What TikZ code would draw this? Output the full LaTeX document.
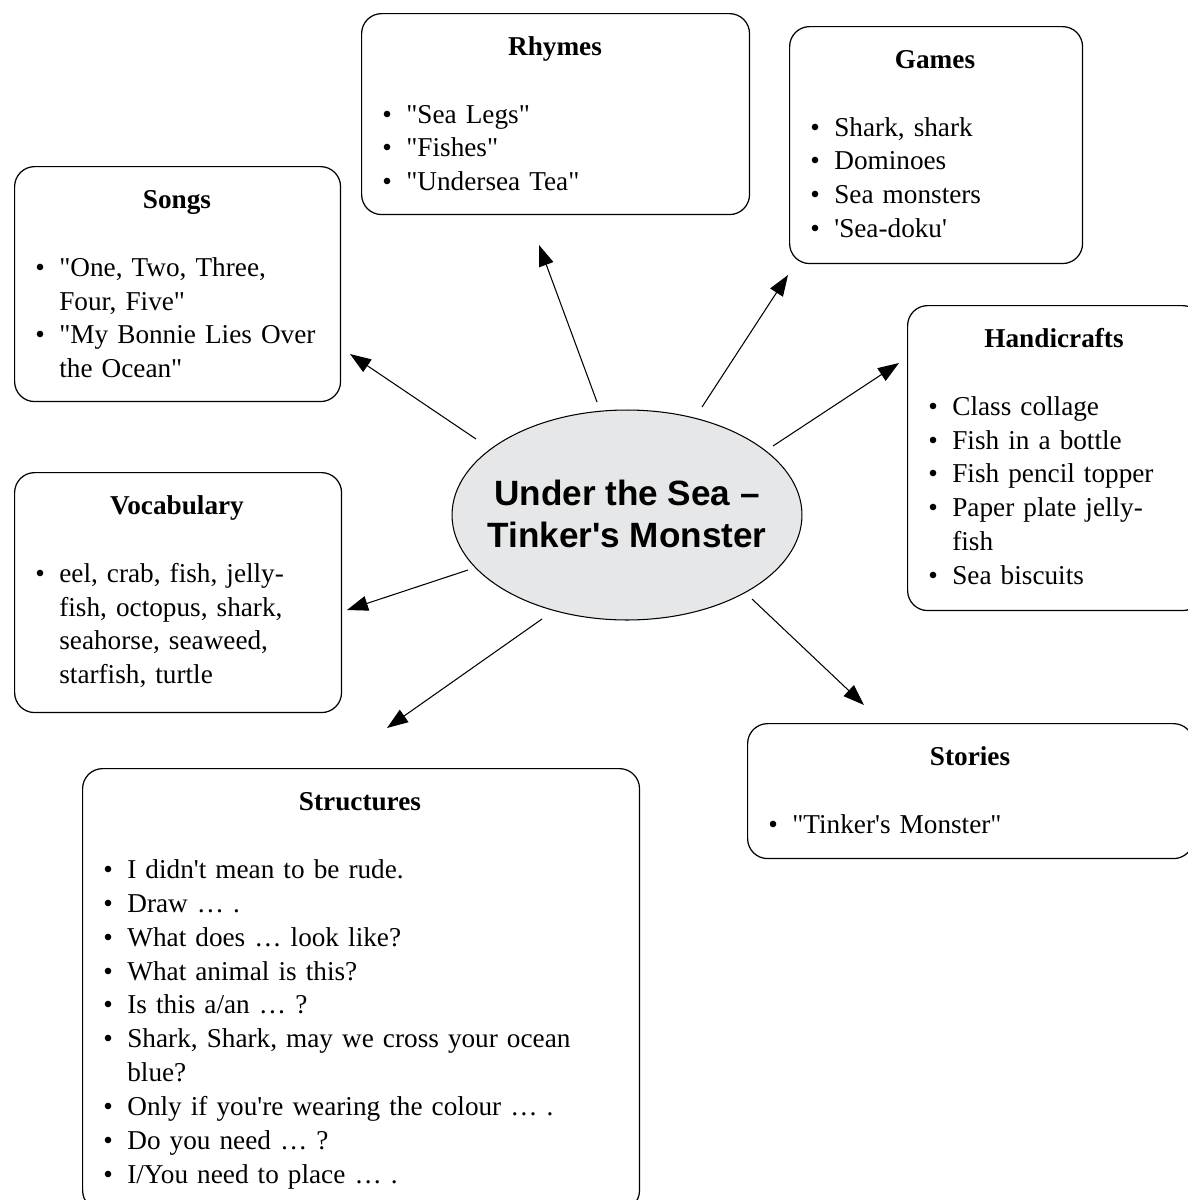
\documentclass[tikz,border=0pt]{standalone}
\usepackage{fontspec}
\setmainfont{Liberation Serif}[Ligatures=TeXOff]
\newfontfamily\hubfont{Liberation Sans}[Ligatures=TeXOff]
\usepackage{tikz}
\usetikzlibrary{shapes.geometric,arrows.meta}
\definecolor{hubfill}{HTML}{E6E7E8}
\tikzstyle{topic_box} = [draw, rounded corners=0.4cm, line width=0.7pt, anchor=north west, inner sep=0pt]
\tikzstyle{topic_head} = [anchor=base, inner sep=0pt, font=\bfseries\fontsize{15.5}{19.35}\selectfont]
\tikzstyle{topic_list} = [anchor=base west, inner sep=0pt, align=left, font=\fontsize{15.5}{19.35}\selectfont]
\tikzstyle{hub_node} = [ellipse, draw, fill=hubfill, line width=0.6pt, minimum width=7cm, minimum height=4.2cm, inner sep=0pt]
\tikzstyle{hub_text} = [align=center, inner sep=0pt, font=\hubfont\bfseries\fontsize{20}{23.9}\selectfont]
\tikzstyle{edge_arrow} = [-{Triangle[length=0.42cm,width=0.3cm]}, line width=0.6pt]
\newcommand{\itm}[1]{\noindent\hangindent=0.48cm\hangafter=1\makebox[0.48cm][l]{\textbullet}#1\par}

\begin{document}
\begin{tikzpicture}[x=0.02cm, y=-0.02cm]
	\useasboundingbox (0,0) rectangle (1187,1200);
	% centre
	\node (hub) at (627,515) [hub_node] {};
	\node (hub_txt) at (627,514) [hub_text] {Under the Sea –\\Tinker's Monster};
	% frames
	\node (rhymes) at (361,13) [topic_box, minimum width=7.76cm, minimum height=4.02cm] {};
	\node (games) at (789,26) [topic_box, minimum width=5.86cm, minimum height=4.74cm] {};
	\node (songs) at (14,166) [topic_box, minimum width=6.52cm, minimum height=4.70cm] {};
	\node (crafts) at (907,305) [topic_box, minimum width=5.90cm, minimum height=6.10cm] {};
	\node (vocab) at (14,472) [topic_box, minimum width=6.54cm, minimum height=4.80cm] {};
	\node (stories) at (747,723) [topic_box, minimum width=8.92cm, minimum height=2.70cm] {};
	\node (structs) at (82,768) [topic_box, minimum width=11.14cm, minimum height=8.84cm] {};
	% headings
	\node (rhymes_head) at (555,55) [topic_head] {Rhymes};
	\node (games_head) at (935,68) [topic_head] {Games};
	\node (songs_head) at (177,208) [topic_head] {Songs};
	\node (crafts_head) at (1054,347) [topic_head] {Handicrafts};
	\node (vocab_head) at (177,514) [topic_head] {Vocabulary};
	\node (stories_head) at (970,765) [topic_head] {Stories};
	\node (structs_head) at (360,810) [topic_head] {Structures};
	% lists
	\node (rhymes_list) at (382,123) [topic_list, text width=7cm] {%
		\itm{"Sea Legs"}
		\itm{"Fishes"}
		\itm{"Undersea Tea"}};
	\node (games_list) at (810,136) [topic_list, text width=5.2cm] {%
		\itm{Shark, shark}
		\itm{Dominoes}
		\itm{Sea monsters}
		\itm{'Sea-doku'}};
	\node (songs_list) at (35,276) [topic_list, text width=6cm] {%
		\itm{"One, Two, Three,\newline Four, Five"}
		\itm{"My Bonnie Lies Over\newline the Ocean"}};
	\node (crafts_list) at (928,415) [topic_list, text width=5.2cm] {%
		\itm{Class collage}
		\itm{Fish in a bottle}
		\itm{Fish pencil topper}
		\itm{Paper plate jelly-\newline fish}
		\itm{Sea biscuits}};
	\node (vocab_list) at (35,582) [topic_list, text width=6cm] {%
		\itm{eel, crab, fish, jelly-\newline fish, octopus, shark,\newline seahorse, seaweed,\newline starfish, turtle}};
	\node (stories_list) at (768,833) [topic_list, text width=8cm] {%
		\itm{"Tinker's Monster"}};
	\node (structs_list) at (103,878) [topic_list, text width=10.5cm] {%
		\itm{I didn't mean to be rude.}
		\itm{Draw … .}
		\itm{What does … look like?}
		\itm{What animal is this?}
		\itm{Is this a/an … ?}
		\itm{Shark, Shark, may we cross your ocean\newline blue?}
		\itm{Only if you're wearing the colour … .}
		\itm{Do you need … ?}
		\itm{I/You need to place … .}};
	% arrow ends
	\coordinate (hub_rhymes) at (597,402);
	\coordinate (hub_games) at (702,407);
	\coordinate (hub_songs) at (476,439);
	\coordinate (hub_crafts) at (773,446);
	\coordinate (hub_vocab) at (468,570);
	\coordinate (hub_structs) at (542,619);
	\coordinate (hub_stories) at (752,599);
	\coordinate (tip_rhymes) at (539,245);
	\coordinate (tip_games) at (788,275);
	\coordinate (tip_songs) at (350,354);
	\coordinate (tip_crafts) at (899,363);
	\coordinate (tip_vocab) at (347,610);
	\coordinate (tip_structs) at (387,728);
	\coordinate (tip_stories) at (864,705);
	\draw[edge_arrow] (hub_rhymes)--(tip_rhymes);
	\draw[edge_arrow] (hub_games)--(tip_games);
	\draw[edge_arrow] (hub_songs)--(tip_songs);
	\draw[edge_arrow] (hub_crafts)--(tip_crafts);
	\draw[edge_arrow] (hub_vocab)--(tip_vocab);
	\draw[edge_arrow] (hub_structs)--(tip_structs);
	\draw[edge_arrow] (hub_stories)--(tip_stories);
\end{tikzpicture}
\end{document}
